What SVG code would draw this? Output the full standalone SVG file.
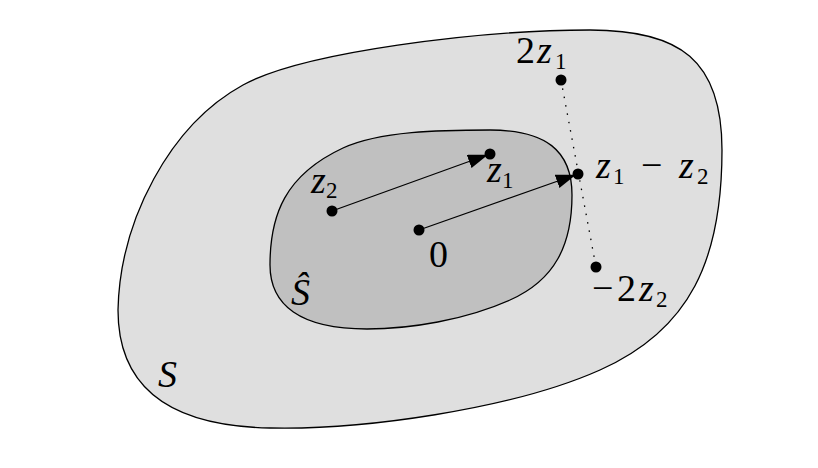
<svg xmlns="http://www.w3.org/2000/svg" width="818" height="468" viewBox="0 0 818 468">
<defs>
<marker id="ah" viewBox="0 0 20 14" refX="19" refY="7" markerWidth="20" markerHeight="14" markerUnits="userSpaceOnUse" orient="auto">
<path d="M0,0 L20,7 L0,14 Z" fill="#000"/>
</marker>
</defs>
<rect width="818" height="468" fill="#fff"/>
<g id="S">
<path fill="#dfdfdf" stroke="#000" stroke-width="1.3" d="M118,310 C120,220 170,125 243,85 C303,52 480,30 590,30 C680,30 722,60 722,150 C722,260 690,330 600,370 C510,410 360,430 270,428 C160,426 118,380 118,310 Z"/>
<text x="158" y="387" font-family="Liberation Serif" font-size="38" font-style="italic">S</text>
</g>
<g id="Shat">
<path fill="#c0c0c0" stroke="#000" stroke-width="1.3" d="M270,265 C270,215 285,175 343,148 C380,131 440,130 490,130 C545,130 572,150 572,195 C572,245 555,280 510,300 C465,320 410,329 367,329 C300,329 270,305 270,265 Z"/>
<text x="291" y="305" font-family="Liberation Serif" font-size="38" font-style="italic">&#348;</text>
</g>
<g id="connectors" stroke="#000" stroke-width="1.3" fill="none">
<line x1="561" y1="80" x2="596" y2="267" stroke-dasharray="1.5,7"/>
<line x1="419" y1="230" x2="575" y2="175" marker-end="url(#ah)"/>
<line x1="332" y1="211" x2="487" y2="155" marker-end="url(#ah)"/>
</g>
<g id="n0">
<circle cx="419" cy="230" r="5.5" fill="#000"/>
<text x="429" y="267" font-family="Liberation Serif" font-size="38">0</text>
</g>
<g id="nz1">
<circle cx="490" cy="154" r="5.5" fill="#000"/>
<text x="487" y="182" font-family="Liberation Serif" font-size="38" font-style="italic">z</text>
<text x="502" y="188" font-family="Liberation Serif" font-size="23">1</text>
</g>
<g id="nz2">
<circle cx="332" cy="211" r="5.5" fill="#000"/>
<text x="311" y="193" font-family="Liberation Serif" font-size="38" font-style="italic">z</text>
<text x="326" y="198" font-family="Liberation Serif" font-size="23">2</text>
</g>
<g id="nz1mz2">
<circle cx="578" cy="174" r="5.5" fill="#000"/>
<text x="596" y="178" font-family="Liberation Serif" font-size="38" font-style="italic">z</text>
<text x="613" y="184" font-family="Liberation Serif" font-size="23">1</text>
<text x="641" y="178" font-family="Liberation Serif" font-size="38">&#8722;</text>
<text x="679" y="178" font-family="Liberation Serif" font-size="38" font-style="italic">z</text>
<text x="697" y="184" font-family="Liberation Serif" font-size="23">2</text>
</g>
<g id="n2z1">
<circle cx="561" cy="80" r="5.5" fill="#000"/>
<text x="516" y="63" font-family="Liberation Serif" font-size="38">2</text>
<text x="537" y="63" font-family="Liberation Serif" font-size="38" font-style="italic">z</text>
<text x="555" y="69" font-family="Liberation Serif" font-size="23">1</text>
</g>
<g id="nm2z2">
<circle cx="596" cy="267" r="5.5" fill="#000"/>
<text x="592" y="301" font-family="Liberation Serif" font-size="38">&#8722;</text>
<text x="617" y="301" font-family="Liberation Serif" font-size="38">2</text>
<text x="639" y="301" font-family="Liberation Serif" font-size="38" font-style="italic">z</text>
<text x="656" y="307" font-family="Liberation Serif" font-size="23">2</text>
</g>
</svg>
